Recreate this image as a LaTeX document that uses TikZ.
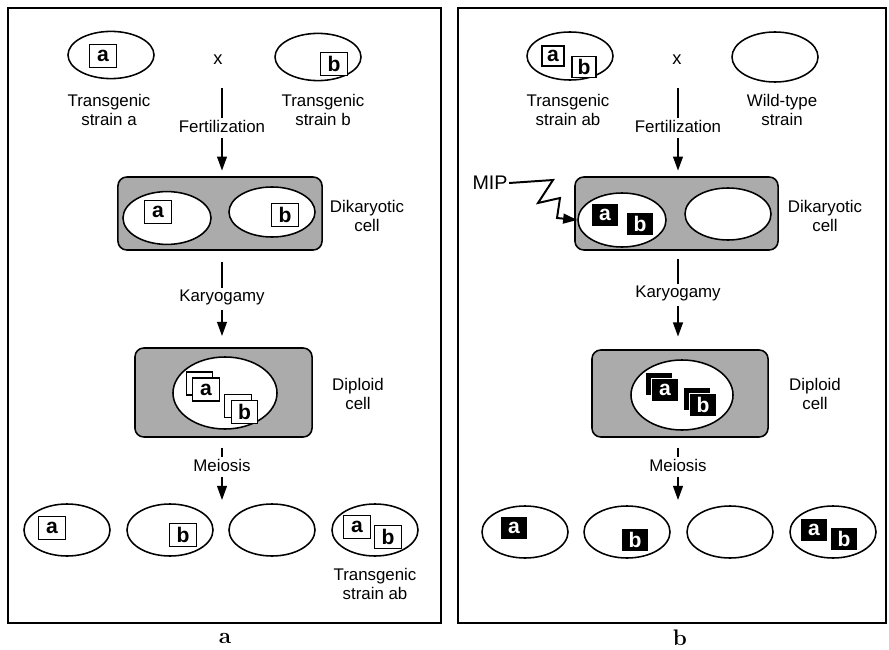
\documentclass[tikz,border=0pt]{standalone}
\usepackage{fontspec}
\setsansfont{Liberation Sans}
\usetikzlibrary{shapes.geometric,arrows.meta}
\begin{document}
\begin{tikzpicture}[x=0.025cm,y=-0.025cm,
    lbl/.style={font=\sffamily\fontsize{12}{14}\selectfont,align=center,inner sep=1pt},
    nucleus/.style={draw,ellipse,fill=white,line width=1.1pt,inner sep=0pt,minimum width=2.15cm,minimum height=1.3cm},
    cellbox/.style={draw,fill=black!33,rounded corners=0.22cm,line width=1.1pt,inner sep=0pt},
    gene/.style={draw,fill=white,line width=0.9pt,inner sep=0pt,minimum width=0.66cm,minimum height=0.58cm,font=\sffamily\bfseries\fontsize{15}{15}\selectfont},
    mgene/.style={gene,fill=black,draw=white,text=white},
    flow/.style={line width=1.1pt},
    flowarrow/.style={flow,-{Triangle[length=10pt,width=7pt]}}]
\useasboundingbox (0,0) rectangle (889,650);
% panel a
\draw[line width=0.9pt] (8,8) rectangle (441,623);
\node[nucleus,minimum height=1.18cm] (ta) at (111,55) {};
\node[gene] (ga1) at (103,56) {a};
\node at (218,60) [lbl,font=\sffamily\fontsize{13}{14}\selectfont] (xa) {x};
\node[nucleus,minimum height=1.18cm] (tb) at (318,57) {};
\node[gene] (gb1) at (334,64) {b};
\node[lbl] (labta) at (109,110) {Transgenic\\strain a};
\node[lbl] (labtb) at (323,110) {Transgenic\\strain b};
\node[lbl] (fert) at (222,126) {Fertilization};
\coordinate (fstart) at (222,88);
\node[cellbox,minimum width=5.1cm,minimum height=1.825cm] (dika) at (220,213.5) {};
\node[nucleus,minimum width=2.2cm,minimum height=1.32cm] (dnA) at (167,218) {};
\node[nucleus,minimum height=1.25cm] (dnB) at (272,212) {};
\node[gene] (ga2) at (158,212) {a};
\node[gene] (gb2) at (285,215) {b};
\node[lbl] (labdika) at (367,216) {Dikaryotic\\cell};
\draw[flow] (fstart) -- (fert.north);
\draw[flowarrow,shorten <=3pt,shorten >=4pt] (fert.south) -- (fert.south |- dika.north);
\node[lbl] (kary) at (222,297) {Karyogamy};
\node[cellbox,minimum width=4.425cm,minimum height=2.225cm] (dipa) at (223.5,392.5) {};
\node[nucleus,minimum width=2.6cm,minimum height=1.8cm] (dipnA) at (225,393) {};
\node[gene] at (199.5,383.5) {};
\node[gene] (ga3) at (206,389.5) {a};
\node[gene] at (238,406) {};
\node[gene] (gb3) at (244.5,412) {b};
\node[lbl] (labdipa) at (358,394) {Diploid\\cell};
\draw[flow,shorten <=8pt] (dika.south -| kary) -- (kary.north);
\draw[flowarrow,shorten <=3pt,shorten >=8pt] (kary.south) -- (kary.south |- dipa.north);
\node[lbl] (meio) at (222,465) {Meiosis};
\coordinate (mend) at (222,500);
\draw[flow,shorten <=7pt] (dipa.south -| meio) -- (meio.north);
\draw[flowarrow,shorten <=3pt] (meio.south) -- (mend);
\node[nucleus] (sa1) at (67,530) {};
\node[nucleus] (sa2) at (170,530) {};
\node[nucleus] (sa3) at (272,530) {};
\node[nucleus] (sa4) at (375,530) {};
\node[gene] at (52,528) {a};
\node[gene] at (183,535) {b};
\node[gene] at (357,527) {a};
\node[gene] at (388,537) {b};
\node[lbl] (labsa4) at (375,584) {Transgenic\\strain ab};
\node[font=\bfseries\fontsize{16}{16}\selectfont,inner sep=0pt] (capa) at (225,638) {a};
% panel b
\draw[line width=0.9pt] (458,8) rectangle (886,623);
\node[nucleus,minimum height=1.2cm] (tab) at (570,56) {};
\node[gene,minimum width=0.55cm,minimum height=0.5cm] at (553,56) {a};
\node[gene,minimum width=0.6cm,minimum height=0.52cm] at (584,67) {b};
\node at (677,60) [lbl,font=\sffamily\fontsize{13}{14}\selectfont] (xb) {x};
\node[nucleus,minimum height=1.25cm] (twt) at (775,57) {};
\node[lbl] (labtab) at (568,110) {Transgenic\\strain ab};
\node[lbl] (labtwt) at (782,110) {Wild-type\\strain};
\node[lbl] (fertb) at (678,126) {Fertilization};
\coordinate (fstartb) at (678,88);
\node[cellbox,minimum width=5.075cm,minimum height=1.825cm] (dikb) at (676.5,213.5) {};
\node[nucleus,minimum width=2.2cm,minimum height=1.35cm] (dnC) at (622,220) {};
\node[nucleus,minimum width=2.15cm,minimum height=1.3cm] (dnD) at (728,214) {};
\node[mgene] at (605,215) {a};
\node[mgene] at (640,224) {b};
\node[lbl] (labdikb) at (825,216) {Dikaryotic\\cell};
\node[lbl,font=\sffamily\fontsize{14}{14}\selectfont] (mip) at (490,183) {MIP};
\draw[flowarrow,line width=1.4pt] (mip.east) -- (553,180) -- (538,203) -- (560,198) -- (557,218) -- (dnC.west);
\draw[flow] (fstartb) -- (fertb.north);
\draw[flowarrow,shorten <=3pt,shorten >=4pt] (fertb.south) -- (fertb.south |- dikb.north);
\node[lbl] (karyb) at (678,293) {Karyogamy};
\node[cellbox,minimum width=4.4cm,minimum height=2.175cm] (dipb) at (680,393.5) {};
\node[nucleus,minimum width=2.55cm,minimum height=1.75cm] (dipnB) at (682,395) {};
\node[mgene] at (659,384) {};
\node[mgene] at (665,390) {a};
\node[mgene] at (697,399) {};
\node[mgene] at (703,405) {b};
\node[lbl] (labdipb) at (815,394) {Diploid\\cell};
\draw[flow,shorten <=6pt] (dikb.south -| karyb) -- (karyb.north);
\draw[flowarrow,shorten <=3pt,shorten >=9pt] (karyb.south) -- (karyb.south |- dipb.north);
\node[lbl] (meiob) at (678,465) {Meiosis};
\coordinate (mendb) at (678,500);
\draw[flow,shorten <=7pt] (dipb.south -| meiob) -- (meiob.north);
\draw[flowarrow,shorten <=3pt] (meiob.south) -- (mendb);
\node[nucleus] (sb1) at (525,532) {};
\node[nucleus] (sb2) at (627,532) {};
\node[nucleus] (sb3) at (730,532) {};
\node[nucleus] (sb4) at (833,532) {};
\node[mgene] at (514,528) {a};
\node[mgene] at (635,540) {b};
\node[mgene] at (814,530) {a};
\node[mgene] at (844,539) {b};
\node[font=\bfseries\fontsize{16}{16}\selectfont,inner sep=0pt] (capb) at (680,638) {b};
\end{tikzpicture}
\end{document}
